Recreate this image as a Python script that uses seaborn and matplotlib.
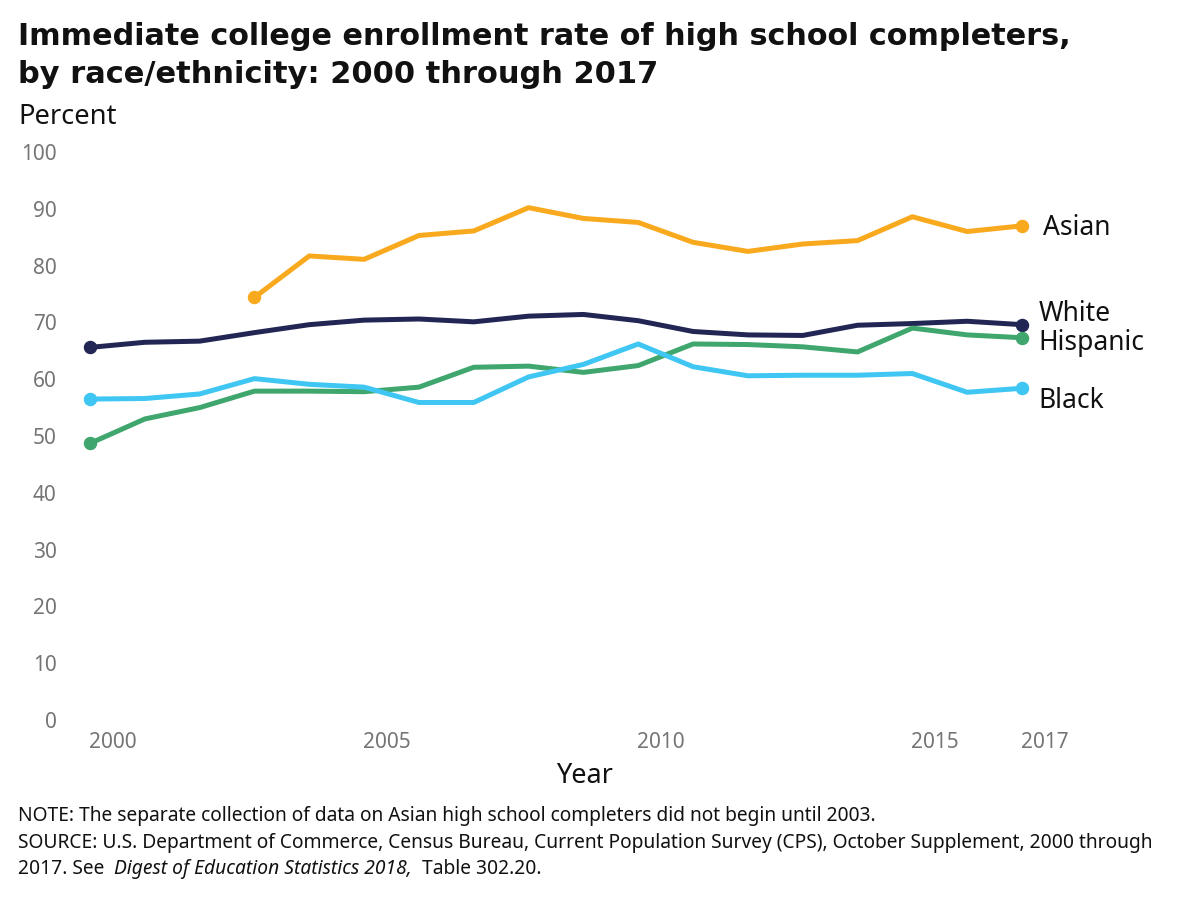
import numpy as np
import pandas as pd
import seaborn as sns
import matplotlib.pyplot as plt
from matplotlib.transforms import ScaledTranslation

years = list(range(2000, 2018))
asian_years = list(range(2003, 2018))
white = [65.6, 66.5, 66.7, 68.2, 69.6, 70.4, 70.6, 70.1, 71.1, 71.4,
         70.3, 68.4, 67.8, 67.7, 69.5, 69.8, 70.2, 69.6]
black = [56.5, 56.6, 57.4, 60.1, 59.1, 58.6, 55.9, 55.9, 60.4, 62.6,
         66.2, 62.2, 60.6, 60.7, 60.7, 61.0, 57.7, 58.4]
hispanic = [48.7, 53.0, 55.0, 57.9, 57.9, 57.8, 58.6, 62.1, 62.3, 61.2,
            62.4, 66.2, 66.1, 65.7, 64.8, 69.0, 67.8, 67.3]
asian = [74.4, 81.7, 81.1, 85.3, 86.1, 90.2, 88.3, 87.6, 84.1, 82.5,
         83.8, 84.4, 88.6, 86.0, 87.0]

groups = ["Asian", "White", "Hispanic", "Black"]
colors = {"Asian": "#F9A91D", "White": "#222654", "Hispanic": "#3FA66D", "Black": "#3FC6F2"}
# label nudges (percentage points / years) relative to the end point
label_dy = {"Asian": 0, "White": 2.2, "Hispanic": -0.5, "Black": -1.95}
label_dx = {"Asian": 0.38, "White": 0.31, "Hispanic": 0.29, "Black": 0.29}

frames = [
    pd.DataFrame({"year": asian_years, "pct": asian, "group": "Asian"}),
    pd.DataFrame({"year": years, "pct": white, "group": "White"}),
    pd.DataFrame({"year": years, "pct": hispanic, "group": "Hispanic"}),
    pd.DataFrame({"year": years, "pct": black, "group": "Black"}),
]
df = pd.concat(frames, ignore_index=True)

sns.set_style("white")
plt.rcParams["font.family"] = ["Noto Sans", "DejaVu Sans"]

fig = plt.figure(figsize=(12, 9), dpi=100)
ax = fig.add_axes([90 / 1200, 180 / 900, 932 / 1200, 568 / 900])
renderer = fig.canvas.get_renderer()


def fit(t, width_px):
    # scale font so the text spans the width seen in the reference
    w = t.get_window_extent(renderer).width
    t.set_fontsize(t.get_fontsize() * width_px / w)
    return t


sns.lineplot(data=df, x="year", y="pct", hue="group", hue_order=groups,
             palette=colors, linewidth=3.6, legend=False, ax=ax)

probe = fit(fig.text(0, 0, "Hispanic", fontsize=17), 106)
lab_fs = probe.get_fontsize()
probe.remove()

for g in groups:
    sub = df[df.group == g]
    ends = sub.iloc[[0, -1]]
    ax.scatter(ends.year, ends.pct, s=75, color=colors[g], zorder=5, clip_on=False)
    last = sub.iloc[-1]
    ax.text(last.year + label_dx[g], last.pct + label_dy[g] - 1.6, g, fontsize=lab_fs,
            va="baseline", ha="left", color="#111111")

ax.set_xlim(2000, 2017)
ax.set_ylim(0, 100)
ax.set_yticks(range(0, 101, 10))
ax.set_xticks([2000, 2005, 2010, 2015, 2017])
ax.tick_params(axis="both", length=0, labelsize=15, labelcolor="#757575")
ax.tick_params(axis="x", pad=9)
ax.tick_params(axis="y", pad=24)
for lab in ax.get_xticklabels():
    lab.set_transform(lab.get_transform() + ScaledTranslation(0.23, 0, fig.dpi_scale_trans))
sns.despine(ax=ax, left=True, bottom=True)
ax.set_xlabel("")
ax.set_ylabel("")

fit(fig.text(18 / 1200, 1 - 45 / 900, "Immediate college enrollment rate of high school completers,",
             fontsize=20, fontweight="bold", family="DejaVu Sans", va="baseline",
             color="#111111"), 1057)
fit(fig.text(18 / 1200, 1 - 83 / 900, "by race/ethnicity: 2000 through 2017",
             fontsize=20, fontweight="bold", family="DejaVu Sans", va="baseline",
             color="#111111"), 642)
fit(fig.text(18 / 1200, 1 - 124 / 900, "Percent", fontsize=17, va="baseline",
             color="#111111"), 98)
fit(fig.text(585 / 1200, 1 - 783 / 900, "Year", fontsize=17, va="baseline", ha="center",
             color="#111111"), 57)

fit(fig.text(18 / 1200, 1 - 821 / 900,
             "NOTE: The separate collection of data on Asian high school completers did not begin until 2003.",
             fontsize=12.5, va="baseline", color="#111111"), 862)
src = fit(fig.text(18 / 1200, 1 - 848 / 900,
                   "SOURCE: U.S. Department of Commerce, Census Bureau, Current Population Survey (CPS), October Supplement, 2000 through",
                   fontsize=12.5, va="baseline", color="#111111"), 1139)
fs = src.get_fontsize()
x = 18
for s, st in [("2017. See  ", "normal"), ("Digest of Education Statistics 2018,", "italic"),
              ("  Table 302.20.", "normal")]:
    t = fig.text(x / 1200, 1 - 874 / 900, s, fontsize=fs, va="baseline", style=st, color="#111111")
    x += t.get_window_extent(renderer).width

fig.savefig("out.png", dpi=100)
